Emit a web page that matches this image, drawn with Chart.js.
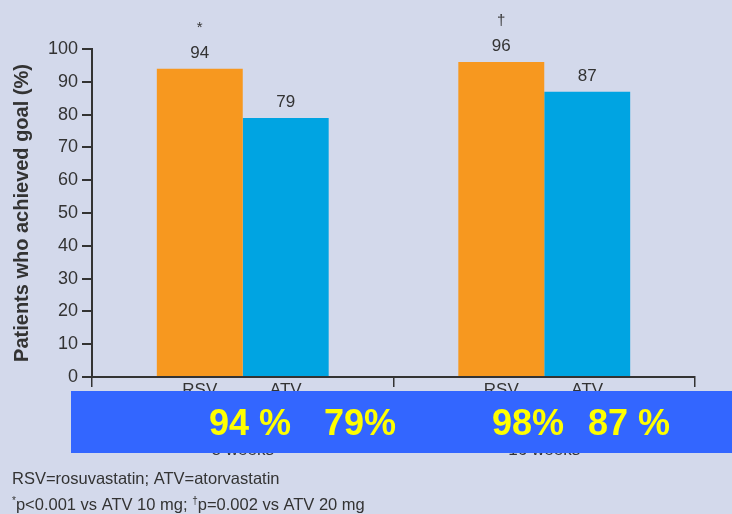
<!DOCTYPE html>
<html>
<head>
<meta charset="utf-8">
<script src="https://cdn.jsdelivr.net/npm/chart.js@4.4.1/dist/chart.umd.min.js"></script>
<style>
  html, body { margin: 0; padding: 0; background: #D3D9EB; }
  #wrap { width: 732px; height: 514px; position: relative; }
</style>
</head>
<body>
<div id="wrap"><canvas id="c" width="732" height="514"></canvas></div>
<script>
// ---- data ----
const categories = ["8 weeks", "16 weeks"];
const seriesNames = ["RSV", "ATV"];
const rsvValues = [94, 96];
const atvValues = [79, 87];
const rsvMarks = ["*", "\u2020"];
const atvMarks = ["", ""];
const yTicks = [0, 10, 20, 30, 40, 50, 60, 70, 80, 90, 100];
const yTitle = "Patients who achieved goal (%)";
const overlayTexts = [["94 %", "79%"], ["98%", "87 %"]];
const footnote1 = "RSV=rosuvastatin; ATV=atorvastatin";

const FONT = "'Liberation Sans', Arial, Helvetica, sans-serif";
const TXT = "#333333";

const labelPlugin = {
  id: 'labels',
  beforeDraw(chart) {
    const ctx = chart.ctx;
    ctx.save();
    ctx.fillStyle = '#D3D9EB';
    ctx.fillRect(0, 0, chart.width, chart.height);
    ctx.restore();
  },
  afterDraw(chart) {
    const ctx = chart.ctx;
    const marks = [rsvMarks, atvMarks];
    const xs = chart.scales.x;
    ctx.save();
    ctx.fillStyle = TXT;
    ctx.textAlign = 'center';
    ctx.textBaseline = 'middle';
    chart.data.datasets.forEach((ds, di) => {
      const meta = chart.getDatasetMeta(di);
      meta.data.forEach((bar, i) => {
        ctx.font = "17px " + FONT;
        ctx.fillText(String(ds.data[i]), bar.x, bar.y - 15.5);
        if (marks[di][i]) {
          ctx.font = "15px " + FONT;
          ctx.fillText(marks[di][i], bar.x, bar.y - 41);
        }
        // series name below axis
        ctx.font = "17px " + FONT;
        ctx.textBaseline = 'top';
        ctx.fillText(seriesNames[di], bar.x, xs.top + 5);
        ctx.textBaseline = 'middle';
      });
    });
    // category names
    ctx.font = "17px " + FONT;
    categories.forEach((c, i) => {
      ctx.fillText(c, xs.getPixelForValue(i), xs.top + 73);
    });

    // blue overlay box
    const boxTop = xs.top + 14, boxBottom = xs.top + 76;
    ctx.fillStyle = '#3366FF';
    ctx.fillRect(71, boxTop, chart.width - 71, boxBottom - boxTop);
    ctx.fillStyle = '#FFFF00';
    ctx.font = "bold 36px " + FONT;
    ctx.textAlign = 'left';
    ctx.textBaseline = 'alphabetic';
    const starts = [[209, 324], [492, 588]];
    overlayTexts.forEach((pair, gi) => {
      pair.forEach((t, k) => ctx.fillText(t, starts[gi][k], boxTop + 44));
    });

    // footnotes
    ctx.fillStyle = TXT;
    ctx.font = "16.5px " + FONT;
    ctx.fillText(footnote1, 12, 484);
    let x = 12;
    const y2 = 510;
    const parts = [["*", true], ["p<0.001 vs ATV 10 mg; ", false], ["\u2020", true], ["p=0.002 vs ATV 20 mg", false]];
    parts.forEach(([t, sup]) => {
      ctx.font = (sup ? "10px " : "16.5px ") + FONT;
      ctx.fillText(t, x, sup ? y2 - 6 : y2);
      x += ctx.measureText(t).width;
    });
    ctx.restore();
  }
};

new Chart(document.getElementById('c'), {
  type: 'bar',
  data: {
    labels: categories,
    datasets: [
      { label: seriesNames[0], data: rsvValues, backgroundColor: '#F7981F', borderWidth: 0,
        categoryPercentage: 0.57, barPercentage: 1.0 },
      { label: seriesNames[1], data: atvValues, backgroundColor: '#00A4E2', borderWidth: 0,
        categoryPercentage: 0.57, barPercentage: 1.0 }
    ]
  },
  options: {
    responsive: false,
    animation: false,
    devicePixelRatio: 1,
    layout: { padding: { top: 49, right: 37, left: 0, bottom: 0 } },
    plugins: { legend: { display: false }, tooltip: { enabled: false } },
    scales: {
      x: {
        offset: true,
        grid: { offset: true, drawOnChartArea: false, drawTicks: true, tickLength: 10, color: '#333', lineWidth: 1.5 },
        border: { display: true, color: '#333', width: 2 },
        ticks: { callback: () => '' },
        afterFit: (s) => { s.height = 137; }
      },
      y: {
        min: 0, max: 100,
        afterBuildTicks: (s) => { s.ticks = yTicks.map(v => ({ value: v })); },
        grid: { drawOnChartArea: false, drawTicks: true, tickLength: 10, color: '#333', lineWidth: 2 },
        border: { display: true, color: '#333', width: 2 },
        ticks: { color: TXT, font: { size: 18, family: FONT }, padding: 4 },
        title: { display: true, text: yTitle, color: TXT, font: { size: 20, family: FONT, weight: 'bold' }, padding: { top: 10, bottom: 0 } },
        afterFit: (s) => { s.width = 92; }
      }
    }
  },
  plugins: [labelPlugin]
});
</script>
</body>
</html>
